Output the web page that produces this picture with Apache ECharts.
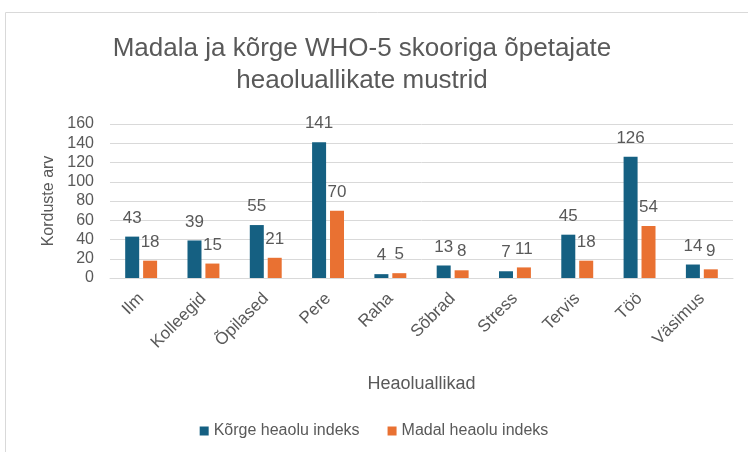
<!DOCTYPE html>
<html>
<head>
<meta charset="utf-8">
<script src="https://cdn.jsdelivr.net/npm/echarts@6/dist/echarts.min.js"></script>
<style>
  html, body { margin: 0; padding: 0; background: #fff; }
  #chart { width: 748px; height: 452px; }
</style>
</head>
<body>
<div id="chart"></div>
<script>
// heaoluallikad ja korduste arv
const categories = ['Ilm', 'Kolleegid', 'Õpilased', 'Pere', 'Raha', 'Sõbrad', 'Stress', 'Tervis', 'Töö', 'Väsimus']
const korge = [43, 39, 55, 141, 4, 13, 7, 45, 126, 14]
const madal = [18, 15, 21, 70, 5, 8, 11, 18, 54, 9]
const seriesNames = ['Kõrge heaolu indeks', 'Madal heaolu indeks']

const font = '"Liberation Sans", Arial, sans-serif'
const txt = '#595959'

let myChart = echarts.init(document.getElementById('chart'))

let labelOpt = {
  show: true,
  position: 'top',
  distance: 10,
  color: txt,
  fontSize: 17,
  fontFamily: font
}

myChart.setOption({
  animation: false,
  graphic: [{
    type: 'rect',
    shape: { x: 5.5, y: 12.5, width: 760, height: 460 },
    style: { fill: 'none', stroke: '#d9d9d9', lineWidth: 1 },
    silent: true
  }],
  title: {
    text: 'Madala ja kõrge WHO-5 skooriga õpetajate\nheaoluallikate mustrid',
    left: 357,
    top: 28,
    textAlign: 'center',
    textStyle: { color: txt, fontSize: 26, fontWeight: 'normal', fontFamily: font, lineHeight: 32 }
  },
  legend: {
    data: seriesNames,
    bottom: 8,
    left: 'center',
    itemWidth: 9,
    itemHeight: 9,
    itemGap: 28,
    icon: 'rect',
    textStyle: { color: txt, fontSize: 16, fontFamily: font }
  },
  grid: { left: 110, right: 15, top: 124, bottom: 174, containLabel: false },
  xAxis: {
    type: 'category',
    data: categories,
    name: 'Heaoluallikad',
    nameLocation: 'middle',
    nameGap: 97,
    nameTextStyle: { color: txt, fontSize: 18, fontFamily: font },
    axisLine: { lineStyle: { color: '#d9d9d9' } },
    axisTick: { show: false },
    axisLabel: { rotate: 45, color: txt, fontSize: 17, fontFamily: font, margin: 18, interval: 0 }
  },
  yAxis: {
    type: 'value',
    min: 0,
    max: 160,
    interval: 20,
    name: 'Korduste arv',
    nameLocation: 'middle',
    nameGap: 52,
    nameRotate: 90,
    nameTextStyle: { color: txt, fontSize: 16, fontFamily: font },
    axisLine: { show: false },
    axisTick: { show: false },
    axisLabel: { color: txt, fontSize: 16, fontFamily: font, margin: 16 },
    splitLine: { lineStyle: { color: '#d9d9d9', width: 1 } }
  },
  series: [{
    name: seriesNames[0],
    type: 'bar',
    data: korge,
    barWidth: 14,
    barGap: '28%',
    itemStyle: { color: '#156082' },
    label: labelOpt
  }, {
    name: seriesNames[1],
    type: 'bar',
    data: madal,
    barWidth: 14,
    itemStyle: { color: '#E97132' },
    label: labelOpt
  }]
})
</script>
</body>
</html>
